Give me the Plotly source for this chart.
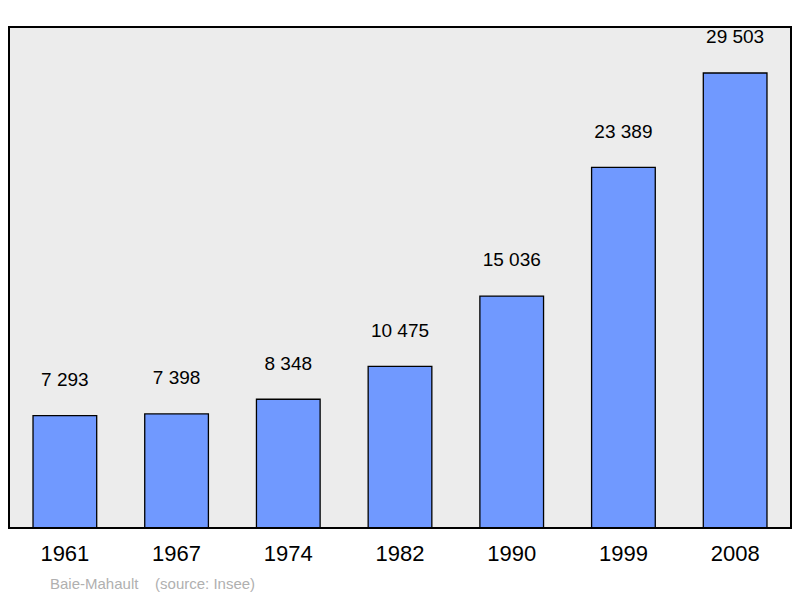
import plotly.graph_objects as go

years = ["1961", "1967", "1974", "1982", "1990", "1999", "2008"]
population = [7293, 7398, 8348, 10475, 15036, 23389, 29503]
labels = ["7 293", "7 398", "8 348", "10 475", "15 036", "23 389", "29 503"]

fig = go.Figure(go.Bar(
    x=years, y=population,
    text=[l + "<br><span style='font-size:9px'> </span>" for l in labels],
    textposition="outside",
    textfont=dict(size=19, color="black", family="Liberation Sans"),
    marker=dict(color="#7099ff", line=dict(color="black", width=1.3)),
    width=0.57, cliponaxis=False,
))
fig.update_layout(
    width=800, height=598,
    margin=dict(l=1, r=17, t=19, b=78),
    paper_bgcolor="white", plot_bgcolor="#ececec",
    font=dict(family="Liberation Sans"),
    showlegend=False,
    xaxis=dict(tickfont=dict(size=22, color="black"), ticks="", showline=False,
               ticklabelstandoff=10),
    yaxis=dict(range=[0, 32486], visible=False, showgrid=False),
    shapes=[dict(type="rect", xref="paper", yref="paper", x0=0, x1=1, y0=0, y1=1,
                 line=dict(color="black", width=2))],
    annotations=[dict(text="Baie-Mahault    (source: Insee)", xref="paper", yref="paper",
                      x=0.05, y=-0.11, xanchor="left", yanchor="middle", showarrow=False,
                      font=dict(size=15, color="#b0b0b0"))],
)
fig.write_html("out.html")
